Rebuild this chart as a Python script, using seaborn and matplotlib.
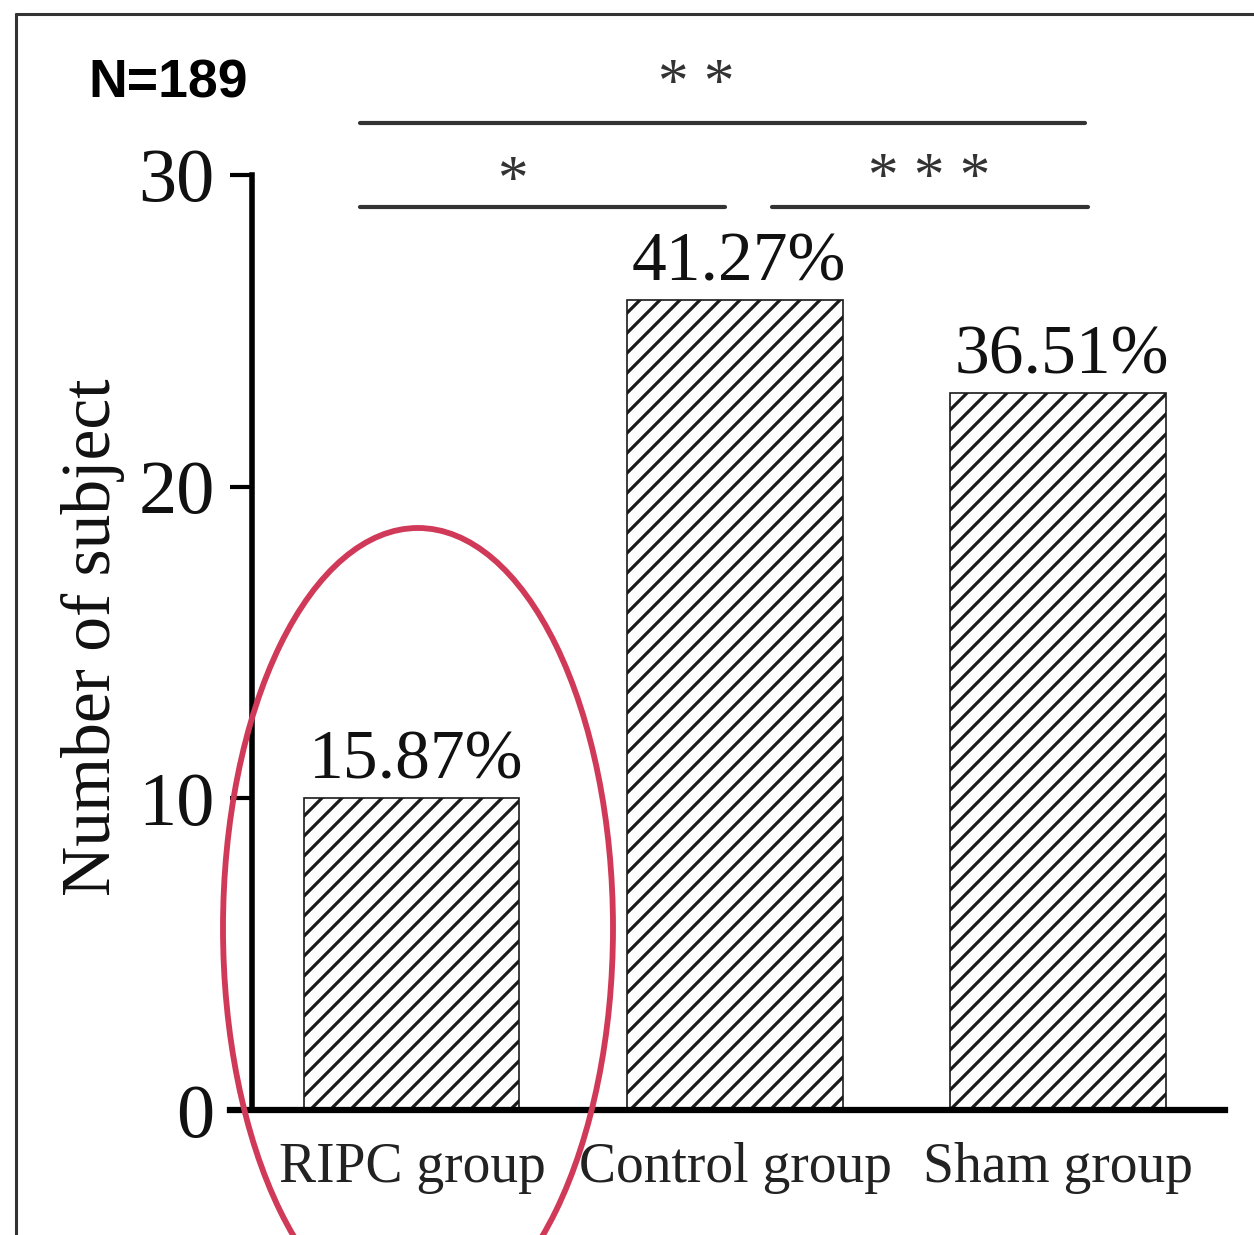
import matplotlib
matplotlib.use("Agg")
import matplotlib.pyplot as plt
import matplotlib.hatch as mhatch
import seaborn as sns
import pandas as pd
from matplotlib.patches import Ellipse
from matplotlib.lines import Line2D

# ---- data ----
groups = ["RIPC group", "Control group", "Sham group"]
counts = [10, 26, 23]
percent_labels = ["15.87%", "41.27%", "36.51%"]
n_label = "N=189"
yticks = [0, 10, 20, 30]
sig_stars = ["*", "* * *", "* *"]

df = pd.DataFrame({"group": groups, "count": counts})


# denser diagonal hatch (closer to the reference spacing)
class DenseNorthEastHatch(mhatch.NorthEastHatch):
    def __init__(self, hatch, density):
        super().__init__(hatch, density)
        n = hatch.count("/")
        self.num_lines = int(n * 10)
        self.num_vertices = (self.num_lines + 1) * 2 if self.num_lines else 0


mhatch._hatch_types = [DenseNorthEastHatch if t is mhatch.NorthEastHatch else t
                       for t in mhatch._hatch_types]

sns.set_style("ticks")
plt.rcParams["font.family"] = ["Liberation Serif", "DejaVu Serif"]
plt.rcParams["hatch.linewidth"] = 2.3

W, H = 1254, 1235
fig = plt.figure(figsize=(W / 100, H / 100), dpi=100)
ax = fig.add_axes([252 / W, 1 - 1110 / H, (1225 - 252) / W, (1110 - 175) / H])

sns.barplot(data=df, x="group", y="count", color="white", edgecolor="#1a1a1a",
            linewidth=1.2, width=0.666, ax=ax, saturation=1)
for p in ax.patches:
    p.set_hatch("/")

ax.set_ylim(0, 30)
ax.set_xlim(-0.495, 2.517)
ax.set_yticks(yticks)
ax.set_yticklabels([str(t) for t in yticks], fontsize=55)
ax.tick_params(axis="y", length=16, width=3, pad=11, color="black", labelcolor="#111111")
ax.tick_params(axis="x", length=0, pad=23, labelsize=40, labelcolor="#222222")
ax.set_xlabel("")
ax.set_ylabel("Number of subject", fontsize=50, color="#111111")
ax.yaxis.set_label_coords(-0.131, 0.506)

sns.despine(ax=ax)
for side in ("left", "bottom"):
    ax.spines[side].set_color("black")
ax.spines["left"].set_linewidth(4)
ax.spines["bottom"].set_linewidth(4.5)
# bottom spine extends left past the y axis like in the reference
ax.spines["bottom"].set_bounds(-0.495 - 22 / 323, 2.517)
ax.spines["bottom"].set_clip_on(False)

# value labels
for i, (c, t) in enumerate(zip(counts, percent_labels)):
    ax.annotate(t, xy=(i, c), xytext=(3, 14), textcoords="offset points",
                ha="center", va="baseline", fontsize=50, color="#111111")

# significance brackets
sig_lines = [(-0.161, 0.969, 28.97), (1.115, 2.093, 28.97), (-0.161, 2.084, 31.67)]
star_pos = [(0.31, 29.3), (1.6, 29.4), (0.88, 32.4)]
for (x0, x1, y), s, (sx, sy) in zip(sig_lines, sig_stars, star_pos):
    ax.plot([x0, x1], [y, y], color="#333333", lw=3, clip_on=False,
            solid_capstyle="round")
    ax.text(sx, sy, s, ha="center", va="baseline", fontsize=44,
            color="#333333", clip_on=False)

# N label
fig.text(88 / W, 1 - 98 / H, n_label, fontsize=38.5, fontweight="bold",
         family=["Liberation Sans", "DejaVu Sans"], ha="left", va="baseline",
         color="black")

# red ellipse
ell = Ellipse((418 / W, 1 - 928 / H), 390 / W, 800 / H, transform=fig.transFigure,
              fill=False, edgecolor="#d03a58", linewidth=4.2, clip_on=False)
fig.add_artist(ell)

# outer frame (top and left)
fig.add_artist(Line2D([16 / W, 16 / W], [0, 1 - 14 / H], transform=fig.transFigure,
                      color="#333333", lw=2.2))
fig.add_artist(Line2D([16 / W, 1], [1 - 14 / H, 1 - 14 / H], transform=fig.transFigure,
                      color="#333333", lw=2.2))

fig.savefig("out.png", dpi=100)
